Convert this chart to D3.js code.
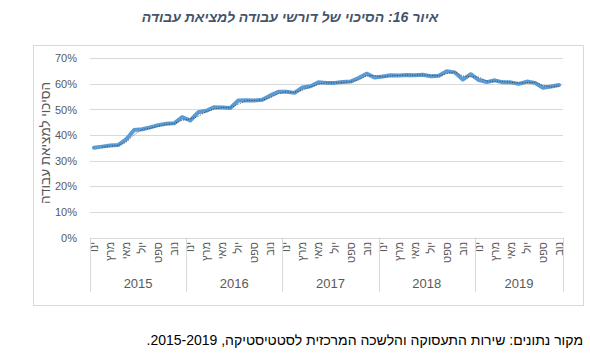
<!DOCTYPE html>
<html><head><meta charset="utf-8">
<script src="https://cdn.jsdelivr.net/npm/d3@7"></script>
<style>
html,body{margin:0;padding:0;background:#fff;}
svg{display:block;font-family:"Liberation Sans",Arial,sans-serif;}
</style></head>
<body>
<svg id="chart" width="590" height="356"></svg>
<script>
// ---- data ----
const years = ["2015","2016","2017","2018","2019"];
const monthNames = ["ינו","פבר","מרץ","אפר","מאי","יונ","יול","אוג","ספט","אוק","נוב","דצמ"];
const v2015 = [35.1,35.5,35.9,36.1,38.3,42.0,42.3,43.0,43.9,44.4,44.6,47.0];
const v2016 = [45.7,48.9,49.5,50.9,50.8,50.6,53.5,53.6,53.5,53.8,55.5,56.9];
const v2017 = [56.9,56.5,58.6,59.1,60.6,60.4,60.4,60.7,60.9,62.3,64.0,62.5];
const v2018 = [62.9,63.4,63.3,63.5,63.4,63.6,63.0,63.2,64.9,64.5,61.7,63.8];
const v2019 = [61.5,60.7,61.4,60.6,60.6,60.0,60.9,60.4,58.5,59.0,59.6];
const yTicks = [0,10,20,30,40,50,60,70];
const titleText = "איור 16: הסיכוי של דורשי עבודה למציאת עבודה";
const yTitle = "הסיכוי למציאת עבודה";
const sourceText = "מקור נתונים: שירות התעסוקה והלשכה המרכזית לסטטיסטיקה, 2015-2019.";

const seriesByYear = [v2015,v2016,v2017,v2018,v2019];
const points = [];
seriesByYear.forEach((arr,yi)=>arr.forEach((v,mi)=>points.push({key:years[yi]+"-"+mi, year:years[yi], m:mi, v})));
// 2-period moving average trendline (as drawn by the spreadsheet)
const trend = points.slice(1).map((p,i)=>({key:p.key, v:(p.v+points[i].v)/2}));

// ---- layout ----
const L=90, R=563, T=58.3, B=237.5;
const svg = d3.select("#chart");
const grid="#d9d9d9", txt="#595959";

svg.append("rect").attr("x",33.5).attr("y",45.5).attr("width",550).attr("height",260)
  .attr("fill","none").attr("stroke",grid);

const x = d3.scaleBand().domain(points.map(p=>p.key)).range([L,R]).padding(0);
const y = d3.scaleLinear().domain([0,70]).range([B,T]);

// gridlines
svg.append("g").selectAll("line").data(yTicks).join("line")
  .attr("x1",L).attr("x2",R).attr("y1",d=>Math.round(y(d))+0.5).attr("y2",d=>Math.round(y(d))+0.5)
  .attr("stroke",grid).attr("stroke-width",1);

// y axis labels
const yAxis = d3.axisLeft(y).tickValues(yTicks).tickFormat(d=>d+"%").tickSize(0).tickPadding(0);
const ga = svg.append("g").attr("transform",`translate(77,0)`).call(yAxis);
ga.select(".domain").remove();
ga.selectAll("text").attr("fill",txt).style("font-size","11px").style("font-family","Liberation Sans, Arial");

// y title
svg.append("text").attr("transform",`translate(50,143) rotate(-90)`).attr("text-anchor","middle")
  .attr("fill",txt).style("font-size","13.5px").attr("direction","rtl").text(yTitle);

// x axis: month labels
const monthLabels = points.filter(p=>p.m%2===0);
svg.append("g").selectAll("text").data(monthLabels).join("text")
  .attr("transform",d=>`translate(${x(d.key)+x.bandwidth()/2+4},242) rotate(-90)`)
  .attr("text-anchor","end").attr("fill",txt).style("font-size","11px").text(d=>monthNames[d.m]);

// year separators and labels
const yearGroups = years.map((yr,i)=>{
  const keys = points.filter(p=>p.year===yr).map(p=>p.key);
  return {yr, x0:x(keys[0]), x1:x(keys[keys.length-1])+x.bandwidth()};
});
const seps = yearGroups.map(g=>g.x0).concat([R]);
svg.append("g").selectAll("line").data(seps).join("line")
  .attr("x1",d=>Math.round(d)+0.5).attr("x2",d=>Math.round(d)+0.5).attr("y1",B).attr("y2",292)
  .attr("stroke",grid);
svg.append("g").selectAll("text").data(yearGroups).join("text")
  .attr("x",d=>(d.x0+d.x1)/2).attr("y",288).attr("text-anchor","middle")
  .attr("fill",txt).style("font-size","13px").text(d=>d.yr);

// series line
const line = d3.line().x(d=>x(d.key)+x.bandwidth()/2).y(d=>y(d.v));
svg.append("path").datum(points).attr("d",line).attr("fill","none")
  .attr("stroke","#5b9bd5").attr("stroke-width",4).attr("stroke-linejoin","round").attr("stroke-linecap","round");
svg.append("path").datum(trend).attr("d",line).attr("fill","none")
  .attr("stroke","#404040").attr("stroke-width",1).attr("stroke-dasharray","1,1.5");

// title
svg.append("text").attr("x",290).attr("y",22).attr("text-anchor","middle").attr("direction","rtl")
  .attr("fill","#44546a").style("font-size","14px").style("font-weight","bold").style("font-style","italic")
  .text(titleText);

// source
svg.append("text").attr("x",583).attr("y",345).attr("text-anchor","start").attr("direction","rtl")
  .attr("fill","#000").style("font-size","14px").text(sourceText);
</script>
</body></html>
